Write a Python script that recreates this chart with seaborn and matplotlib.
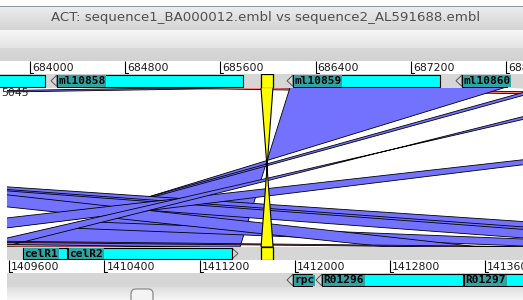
import matplotlib
matplotlib.use("Agg")
import matplotlib.pyplot as plt
from matplotlib.patches import Polygon, Rectangle, FancyBboxPatch
import numpy as np
import seaborn as sns

W, H = 523, 300
BP_PER_PX = 8.4

title = "ACT: sequence1_BA000012.embl vs sequence2_AL591688.embl"

# left edge of the visible window on each sequence (bp)
top_origin = 683748
bot_origin = 1409524

top_ticks = [684000, 684800, 685600, 686400, 687200, 688000]
bot_ticks = [1409600, 1410400, 1411200, 1412000, 1412800, 1413600]

# sequence1 features (reverse strand)
top_names = ["", "ml10858", "ml10859", "ml10860"]
top_starts = [682900, 684176, 686159, 687578]
top_ends = [684126, 685789, 687444, 688007]

# sequence2 features, forward strand
bot_fwd_names = ["celR1", "celR2"]
bot_fwd_starts = [1409717, 1410095]
bot_fwd_ends = [1410137, 1411523]

# sequence2 features, reverse strand
bot_rev_names = ["rpc", "R01296", "R01297"]
bot_rev_starts = [1411935, 1412178, 1413371]
bot_rev_ends = [1412145, 1413413, 1414600]

# selected feature pair (yellow)
sel_top = [685940, 686041]
sel_bot = [1411717, 1411818]

# blast matches, in drawing order: top start/end, bottom start/end
# (bottom start > bottom end means the match is inverted)
m_kind = ["rev", "fwd", "fwd", "rev", "rev", "rev", "weak", "rev", "rev",
          "rev", "rev", "rev", "fwd", "fwd", "sel"]
m_top_start = [685403, 684840, 687948, 686184, 688292, 654541, 689309, 671022,
               671988, 674290, 693442, 689116, 582948, 557748, 685940]
m_top_end = [686184, 685932, 688788, 687990, 688385, 656028, 693442, 671392,
             672156, 675634, 693526, 689309, 584460, 558630, 686041]
m_bot_start = [1327204, 1494616, 1581724, 1411540, 1409264, 1414127, 1409255,
               1414950, 1416244, 1412783, 1408272, 1409549, 1409692, 1413346,
               1411818]
m_bot_end = [1327985, 1495708, 1582564, 1409398, 1409280, 1415622, 1408272,
             1417101, 1415908, 1413556, 1407416, 1409255, 1411204, 1414228,
             1411717]

kind_colour = {"rev": "#7272ff", "fwd": "#ff8080", "weak": "#ffffff",
               "sel": "#ffff00"}
CYAN = "#00ffff"
TRACK = "#d6d6d6"

sns.set_style("white")
plt.rcParams["font.family"] = ["DejaVu Sans"]

fig = plt.figure(figsize=(W / 100, H / 100), dpi=100)
fig.patch.set_facecolor("white")


def rect(x0, y0, x1, y1):
    # pixel box (y down) -> figure fraction rect
    return [x0 / W, 1 - y1 / H, (x1 - x0) / W, (y1 - y0) / H]


def blank(ax, colour):
    ax.set_xticks([])
    ax.set_yticks([])
    sns.despine(ax=ax, left=True, bottom=True)
    ax.set_facecolor(colour)


def gradient(box, c_top, c_bot):
    ax = fig.add_axes(rect(*box))
    blank(ax, "white")
    a = np.array(matplotlib.colors.to_rgb(c_top))
    b = np.array(matplotlib.colors.to_rgb(c_bot))
    t = np.linspace(0, 1, 32)[:, None, None]
    img = a * (1 - t) + b * t
    ax.imshow(np.repeat(img, 2, axis=1), aspect="auto", extent=(0, 1, 0, 1))
    ax.set_xlim(0, 1)
    ax.set_ylim(0, 1)
    return ax


# window chrome
gradient((0, 7, W, 30), "#ececec", "#d4d4d4")
fig.add_artist(Rectangle((0, 1 - 7 / H), 1, 1 / H, transform=fig.transFigure,
                         color="#8d97a3", lw=0))
fig.text(0.507, 1 - 18 / H, title, ha="center", va="center",
         fontsize=9.6, color="#505050")
gradient((0, 30, W, 48), "#f6f6f6", "#e4e4e4")
gradient((0, 48, W, 61), "#d8d8d8", "#d2d2d2")
bottom_bar = gradient((7, 287, W, H), "#dedede", "#f6f6f6")
bottom_bar.add_patch(FancyBboxPatch((124 / (W - 7), -0.5), 22 / (W - 7), 1.35,
                                    boxstyle="round,pad=0,rounding_size=0.0097",
                                    fc="#f4f4f4", ec="#8a8a8a", lw=0.9,
                                    mutation_aspect=39.7))


def track_axes(box, origin):
    ax = fig.add_axes(rect(*box))
    x0 = origin + box[0] * BP_PER_PX
    ax.set_xlim(x0, x0 + (box[2] - box[0]) * BP_PER_PX)
    ax.set_ylim(0, 1)
    return ax


def draw_ruler(ax, ticks):
    blank(ax, "white")
    ax.vlines(ticks, 0.03, 1, color="black", lw=0.8)
    for t in ticks:
        ax.plot([t, t + 3 * BP_PER_PX], [0.05, 0.05], color="black", lw=0.8)
        ax.text(t + 2 * BP_PER_PX, 0.45, str(t), ha="left", va="center",
                fontsize=7.8, color="#1a1a1a")


def draw_features(ax, names, starts, ends, strand):
    head = 6 * BP_PER_PX
    boxes = []
    for name, s, e in zip(names, starts, ends):
        if strand < 0:
            bs, be = s + head, e
            tip = [(s, 0.5), (bs, 0.92), (bs, 0.08)]
        else:
            bs, be = s, e - head
            tip = [(e, 0.5), (be, 0.92), (be, 0.08)]
        ax.add_patch(Polygon(tip, closed=True, fc=TRACK, ec="#555555", lw=0.7))
        boxes.append((name, bs, be))
    for name, bs, be in boxes:
        box = Rectangle((bs, 0.06), be - bs, 0.88, fc=CYAN, ec="black", lw=0.8)
        ax.add_patch(box)
        if name:
            txt = ax.text(bs + 1.5 * BP_PER_PX, 0.48, name, ha="left", va="center",
                          fontsize=8, fontweight="bold", family="DejaVu Sans Mono",
                          color="black",
                          bbox=dict(boxstyle="square,pad=0.05", fc="#2fa4a4",
                                    ec="none"))
            txt.set_clip_path(box)


def draw_selected(ax, span):
    ax.add_patch(Rectangle((span[0], 0.0), span[1] - span[0], 1.0,
                           fc="#ffff00", ec="black", lw=0.9))


# sequence1 ruler and features
ax_tr = track_axes((0, 61, W, 74), top_origin)
draw_ruler(ax_tr, top_ticks)
ax_tf = track_axes((0, 74, W, 87.5), top_origin)
blank(ax_tf, TRACK)
draw_features(ax_tf, top_names, top_starts, top_ends, -1)
draw_selected(ax_tf, sel_top)

# comparison panel
ax_c = track_axes((7, 87.5, W, 247), top_origin)
blank(ax_c, "white")
shift = top_origin - bot_origin
for k, ts, te, bs, be in zip(m_kind, m_top_start, m_top_end, m_bot_start, m_bot_end):
    xy = [(ts, 1), (te, 1), (be + shift, 0), (bs + shift, 0)]
    edge = "none" if k == "weak" else "black"
    ax_c.add_patch(Polygon(xy, closed=True, fc=kind_colour[k], ec=edge,
                           lw=0.8 if k == "sel" else 0.6,
                           zorder=3 if k == "sel" else 2))

# sequence2 features, ruler, reverse features
ax_bf = track_axes((7, 247, W, 260), bot_origin)
blank(ax_bf, TRACK)
draw_features(ax_bf, bot_fwd_names, bot_fwd_starts, bot_fwd_ends, 1)
draw_selected(ax_bf, sel_bot)
ax_br = track_axes((7, 260, W, 273), bot_origin)
draw_ruler(ax_br, bot_ticks)
ax_bf2 = track_axes((7, 273, W, 287), bot_origin)
blank(ax_bf2, TRACK)
draw_features(ax_bf2, bot_rev_names, bot_rev_starts, bot_rev_ends, -1)

fig.text(1 / W, 1 - 93 / H, "5045", ha="left", va="center", fontsize=7.8,
         color="#222222")

fig.savefig("out.png", dpi=100)
